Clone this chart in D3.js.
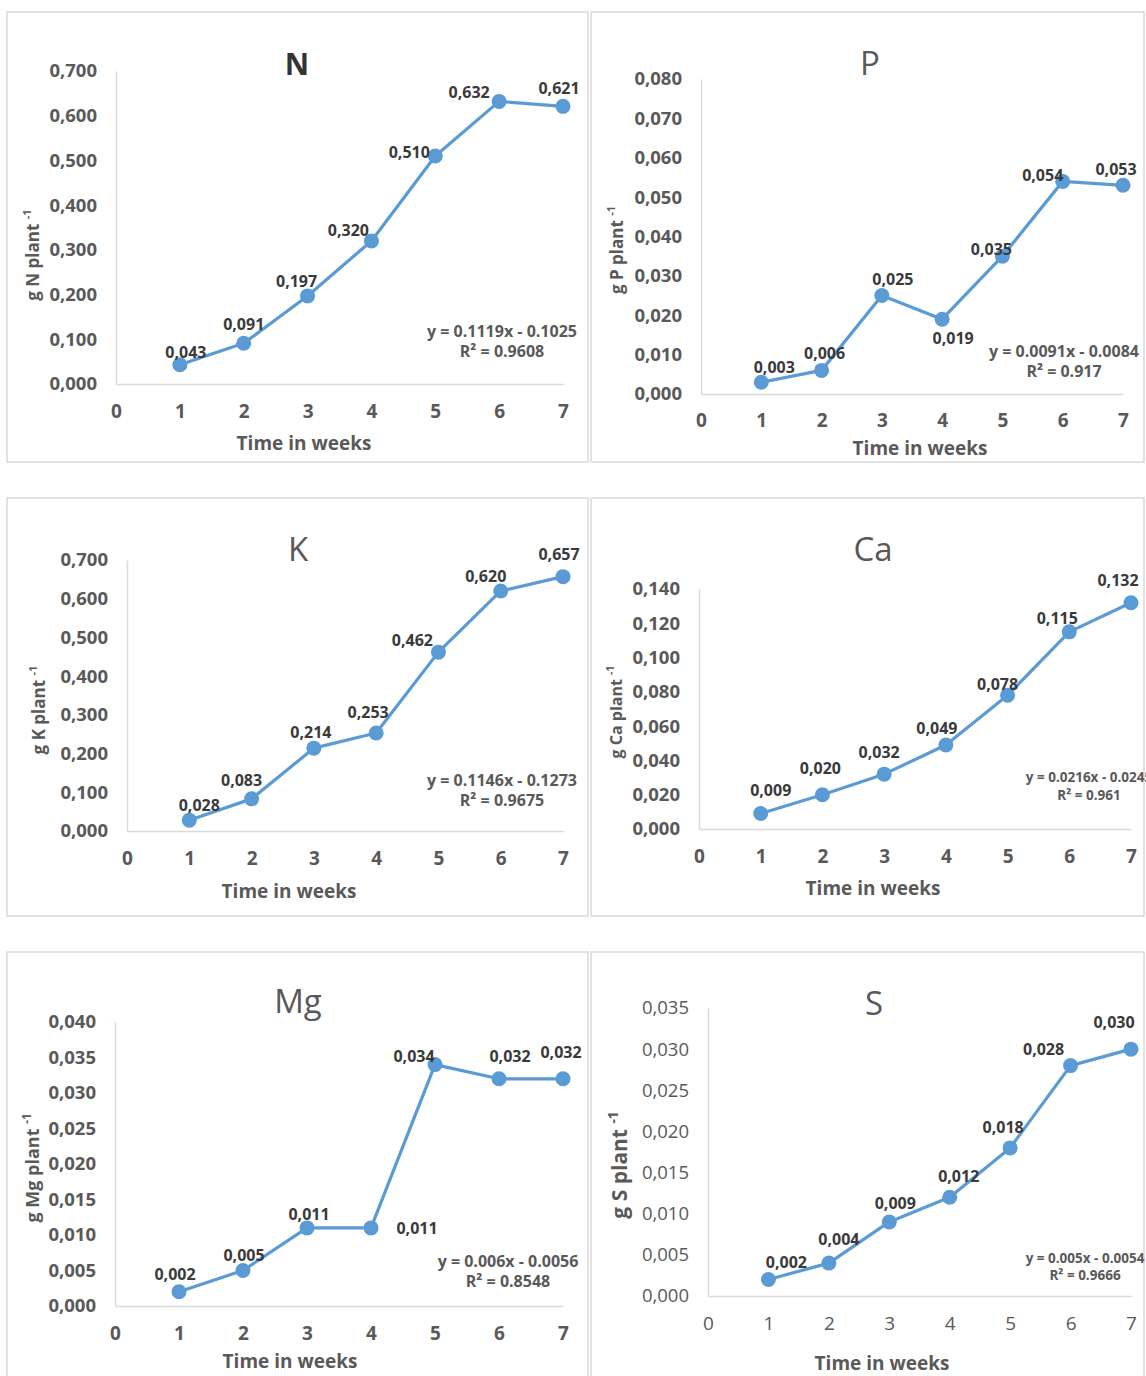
<!DOCTYPE html>
<html>
<head>
<meta charset="utf-8">
<script src="https://cdn.jsdelivr.net/npm/d3@7"></script>
<style>
  body { margin: 0; background: #fff; }
  svg text { font-family: "Open Sans", "Liberation Sans", sans-serif; }
</style>
</head>
<body>
<svg id="chart" width="1146" height="1376"></svg>
<script>
// weeks on the x axis
var weeks = [1, 2, 3, 4, 5, 6, 7];
var xTicks = [0, 1, 2, 3, 4, 5, 6, 7];

// nutrient uptake, g per plant
var nValues = [0.043, 0.091, 0.197, 0.320, 0.510, 0.632, 0.621];
var pValues = [0.003, 0.006, 0.025, 0.019, 0.035, 0.054, 0.053];
var kValues = [0.028, 0.083, 0.214, 0.253, 0.462, 0.620, 0.657];
var caValues = [0.009, 0.020, 0.032, 0.049, 0.078, 0.115, 0.132];
var mgValues = [0.002, 0.005, 0.011, 0.011, 0.034, 0.032, 0.032];
var sValues = [0.002, 0.004, 0.009, 0.012, 0.018, 0.028, 0.030];

// y tick values
var nTicks = [0, 0.1, 0.2, 0.3, 0.4, 0.5, 0.6, 0.7];
var pTicks = [0, 0.01, 0.02, 0.03, 0.04, 0.05, 0.06, 0.07, 0.08];
var kTicks = [0, 0.1, 0.2, 0.3, 0.4, 0.5, 0.6, 0.7];
var caTicks = [0, 0.02, 0.04, 0.06, 0.08, 0.10, 0.12, 0.14];
var mgTicks = [0, 0.005, 0.010, 0.015, 0.020, 0.025, 0.030, 0.035, 0.040];
var sTicks = [0, 0.005, 0.010, 0.015, 0.020, 0.025, 0.030, 0.035];

// trendline equations
var nTrend = ['y = 0.1119x - 0.1025', 'R\u00b2 = 0.9608'];
var pTrend = ['y = 0.0091x - 0.0084', 'R\u00b2 = 0.917'];
var kTrend = ['y = 0.1146x - 0.1273', 'R\u00b2 = 0.9675'];
var caTrend = ['y = 0.0216x - 0.0245', 'R\u00b2 = 0.961'];
var mgTrend = ['y = 0.006x - 0.0056', 'R\u00b2 = 0.8548'];
var sTrend = ['y = 0.005x - 0.0054', 'R\u00b2 = 0.9666'];

var blue = '#5b9bd5';
var grey = '#595959';
var frame = '#d9d9d9';

var locale = d3.formatLocale({decimal: ',', thousands: '.', grouping: [3], currency: ['', '']});
var fmt3 = locale.format('.3f');

// layout of each panel
var panels = [
  {name: 'N', values: nValues, ticks: nTicks, trend: nTrend,
   box: [7, 12, 581, 450], x0: 116, x7: 563, yTop: 71, yBottom: 384,
   title: [297, 75], titleBold: true, xTickY: 418, xLabel: [304, 450], yLabel: [33, 255],
   trendPos: [502, 337, 357], trendSize: 16, yLabelSize: 17, axisWeight: 'bold',
   shift: [[6, -7], [0, -13], [-11, -9], [-23, -5], [-26, 2], [-30, -3], [-4, -12]]},
  {name: 'P', values: pValues, ticks: pTicks, trend: pTrend,
   box: [591, 12, 553, 450], x0: 701, x7: 1123, yTop: 79, yBottom: 394,
   title: [870, 75], titleBold: false, xTickY: 427, xLabel: [920, 455], yLabel: [617, 250],
   trendPos: [1064, 357, 377], trendSize: 16, yLabelSize: 17, axisWeight: 'bold',
   shift: [[13, -9], [3, -11], [11, -11], [11, 25], [-11, -1], [-20, 0], [-7, -10]]},
  {name: 'K', values: kValues, ticks: kTicks, trend: kTrend,
   box: [7, 498, 581, 418], x0: 127, x7: 563, yTop: 560, yBottom: 831,
   title: [298, 561], titleBold: false, xTickY: 865, xLabel: [289, 898], yLabel: [39, 710],
   trendPos: [502, 786, 806], trendSize: 16, yLabelSize: 17, axisWeight: 'bold',
   shift: [[10, -9], [-10, -13], [-3, -10], [-8, -15], [-26, -6], [-15, -9], [-4, -17]]},
  {name: 'Ca', values: caValues, ticks: caTicks, trend: caTrend,
   box: [591, 498, 553, 418], x0: 699, x7: 1131, yTop: 589, yBottom: 829,
   title: [873, 561], titleBold: false, xTickY: 863, xLabel: [873, 895], yLabel: [616, 712],
   trendPos: [1089, 782, 800], trendSize: 13.5, yLabelSize: 16, axisWeight: 'bold',
   shift: [[10, -18], [-2, -21], [-5, -16], [-9, -11], [-10, -5], [-12, -8], [-13, -17]]},
  {name: 'Mg', values: mgValues, ticks: mgTicks, trend: mgTrend,
   box: [7, 952, 581, 460], x0: 115, x7: 563, yTop: 1022, yBottom: 1306,
   title: [298, 1013], titleBold: false, xTickY: 1340, xLabel: [290, 1368], yLabel: [33, 1168],
   trendPos: [508, 1267, 1287], trendSize: 16, yLabelSize: 18, axisWeight: 'bold',
   shift: [[-4, -12], [1, -10], [2, -8], [46, 6], [-21, -3], [11, -17], [-2, -21]]},
  {name: 'S', values: sValues, ticks: sTicks, trend: sTrend,
   box: [591, 952, 553, 460], x0: 708, x7: 1131, yTop: 1008, yBottom: 1296,
   title: [874, 1015], titleBold: false, xTickY: 1330, xLabel: [882, 1370], yLabel: [620, 1165],
   trendPos: [1085, 1263, 1280], trendSize: 13.5, yLabelSize: 21, axisWeight: 'normal',
   shift: [[18, -12], [10, -18], [6, -13], [9, -15], [-7, -15], [-27, -11], [-17, -21]]}
];

var svg = d3.select('#chart');

panels.forEach(function(p) {
  drawPanel(p);
});

function drawPanel(p) {
  var g = svg.append('g');

  g.append('rect')
    .attr('x', p.box[0])
    .attr('y', p.box[1])
    .attr('width', p.box[2])
    .attr('height', p.box[3])
    .attr('fill', 'none')
    .attr('stroke', frame)
    .attr('stroke-width', 1.5);

  var x = d3.scaleLinear().domain([0, 7]).range([p.x0, p.x7]);
  var y = d3.scaleLinear().domain([0, d3.max(p.ticks)]).range([p.yBottom, p.yTop]);

  // y axis
  var yAxis = g.append('g')
    .attr('transform', 'translate(' + p.x0 + ',0)')
    .call(d3.axisLeft(y).tickValues(p.ticks).tickFormat(fmt3).tickSize(0).tickPadding(19));
  yAxis.select('.domain').attr('stroke', frame).attr('stroke-width', 1.5);
  yAxis.selectAll('text')
    .attr('font-family', '"Open Sans", sans-serif')
    .attr('font-size', 18.5)
    .attr('font-weight', p.axisWeight)
    .attr('fill', grey);

  // x axis
  var xAxis = g.append('g')
    .attr('transform', 'translate(0,' + p.yBottom + ')')
    .call(d3.axisBottom(x).tickValues(xTicks).tickFormat(d3.format('d')).tickSize(0));
  xAxis.select('.domain').attr('stroke', frame).attr('stroke-width', 1.5);
  xAxis.selectAll('text')
    .attr('y', p.xTickY - p.yBottom)
    .attr('dy', null)
    .attr('font-family', '"Open Sans", sans-serif')
    .attr('font-size', 19)
    .attr('font-weight', p.axisWeight)
    .attr('fill', grey);

  // series line and markers
  var line = d3.line()
    .x(function(d, i) { return x(weeks[i]); })
    .y(function(d) { return y(d); });

  g.append('path')
    .datum(p.values)
    .attr('d', line)
    .attr('fill', 'none')
    .attr('stroke', blue)
    .attr('stroke-width', 3.2)
    .attr('stroke-linejoin', 'round');

  g.selectAll('circle')
    .data(p.values)
    .join('circle')
    .attr('cx', function(d, i) { return x(weeks[i]); })
    .attr('cy', function(d) { return y(d); })
    .attr('r', 7.5)
    .attr('fill', blue);

  // data labels
  g.selectAll('text.val')
    .data(p.values)
    .join('text')
    .attr('class', 'val')
    .attr('x', function(d, i) { return x(weeks[i]) + p.shift[i][0]; })
    .attr('y', function(d, i) { return y(d) + p.shift[i][1]; })
    .attr('text-anchor', 'middle')
    .attr('font-size', 16)
    .attr('font-weight', 'bold')
    .attr('fill', '#3a3a3a')
    .text(function(d) { return fmt3(d); });

  // title
  g.append('text')
    .attr('x', p.title[0])
    .attr('y', p.title[1])
    .attr('text-anchor', 'middle')
    .attr('font-size', p.titleBold ? 30 : 33)
    .attr('font-weight', p.titleBold ? 'bold' : 'normal')
    .attr('fill', p.titleBold ? '#333' : grey)
    .text(p.name);

  // axis titles
  g.append('text')
    .attr('x', p.xLabel[0])
    .attr('y', p.xLabel[1])
    .attr('text-anchor', 'middle')
    .attr('font-size', 19)
    .attr('font-weight', 'bold')
    .attr('fill', grey)
    .text('Time in weeks');

  var yl = g.append('text')
    .attr('transform', 'translate(' + p.yLabel[0] + ',' + p.yLabel[1] + ') rotate(-90)')
    .attr('text-anchor', 'middle')
    .attr('dy', '0.35em')
    .attr('font-size', p.yLabelSize)
    .attr('font-weight', 'bold')
    .attr('fill', grey);
  yl.append('tspan').text('g ' + p.name + ' plant ');
  yl.append('tspan')
    .attr('font-size', p.yLabelSize * 0.65)
    .attr('dy', -p.yLabelSize * 0.45)
    .text('-1');

  // trendline equation
  g.selectAll('text.trend')
    .data(p.trend)
    .join('text')
    .attr('class', 'trend')
    .attr('x', p.trendPos[0])
    .attr('y', function(d, i) { return p.trendPos[i + 1]; })
    .attr('text-anchor', 'middle')
    .attr('font-family', '"DejaVu Sans Condensed", "Liberation Sans Narrow", sans-serif')
    .attr('font-size', p.trendSize)
    .attr('font-weight', 'bold')
    .attr('fill', grey)
    .text(function(d) { return d; });
}
</script>
</body>
</html>
